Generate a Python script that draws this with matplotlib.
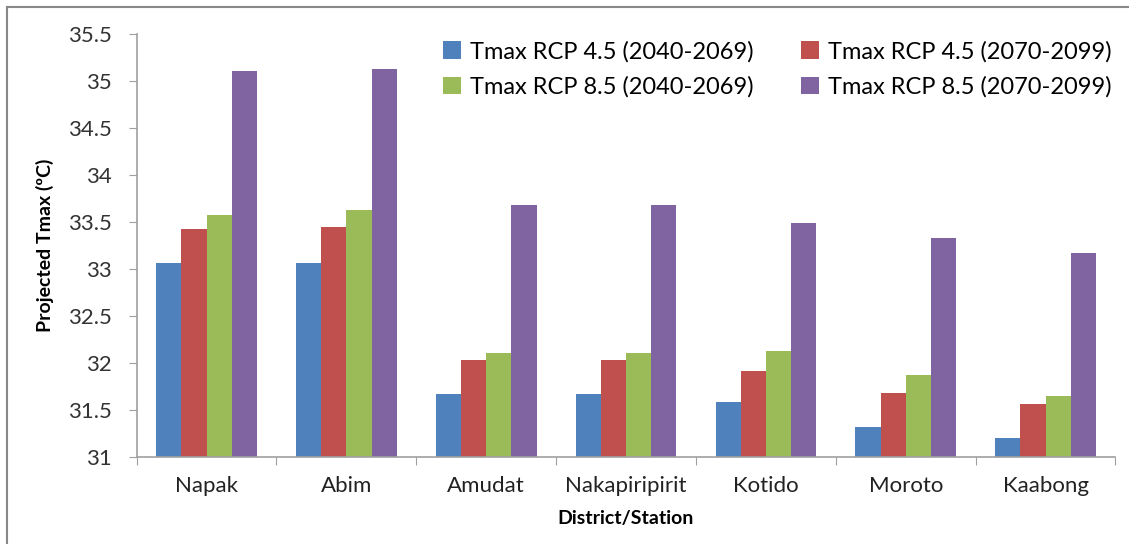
import matplotlib.pyplot as plt
import matplotlib.lines as mlines
import numpy as np

# === Data ===
stations = ['Napak', 'Abim', 'Amudat', 'Nakapiripirit', 'Kotido', 'Moroto', 'Kaabong']
rcp45_mid = [33.07, 33.06, 31.67, 31.67, 31.58, 31.32, 31.20]
rcp45_end = [33.43, 33.45, 32.03, 32.03, 31.91, 31.68, 31.56]
rcp85_mid = [33.58, 33.63, 32.11, 32.11, 32.13, 31.87, 31.65]
rcp85_end = [35.11, 35.13, 33.68, 33.68, 33.49, 33.33, 33.17]

series = [
    ('Tmax RCP 4.5 (2040-2069)', rcp45_mid, '#4F81BD'),
    ('Tmax RCP 4.5 (2070-2099)', rcp45_end, '#C0504D'),
    ('Tmax RCP 8.5 (2040-2069)', rcp85_mid, '#9BBB59'),
    ('Tmax RCP 8.5 (2070-2099)', rcp85_end, '#8064A2'),
]

plt.rcParams['font.family'] = ['Lato', 'DejaVu Sans']

fig = plt.figure(figsize=(11.29, 5.44), dpi=100)
ax = fig.add_axes([0.121, 0.160, 0.867, 0.777])

x = np.arange(len(stations))
bw = 0.18
base = 31
bars = []
for i, (label, vals, color) in enumerate(series):
    heights = [v - base for v in vals]
    b = ax.bar(x + (i - 1.5) * bw, heights, bw, bottom=base, color=color, label=label, zorder=2)
    bars.append(b)

ax.set_ylim(31, 35.5)
ax.set_xlim(-0.5, len(stations) - 0.5)
ax.set_yticks(np.arange(31, 35.51, 0.5))
ax.set_yticklabels(['31', '31.5', '32', '32.5', '33', '33.5', '34', '34.5', '35', '35.5'],
                   fontsize=16, color='#333333')

# category labels centred, ticks between categories
ax.set_xticks(np.arange(-0.5, len(stations), 1.0))
ax.set_xticklabels([])
ax.set_xticks(x, minor=True)
ax.set_xticklabels(stations, minor=True, fontsize=16, color='#222222')
ax.tick_params(axis='x', which='minor', length=0, pad=14)
ax.tick_params(axis='x', which='major', length=6, color='#A0A0A0', direction='out')
ax.tick_params(axis='y', length=6, color='#A0A0A0', direction='out', pad=12)

for side in ['top', 'right']:
    ax.spines[side].set_visible(False)
for side in ['left', 'bottom']:
    ax.spines[side].set_color('#A0A0A0')
    ax.spines[side].set_linewidth(1.2)

ax.set_ylabel('Projected Tmax (ºC)', fontsize=14, weight='bold', labelpad=10)
ax.set_xlabel('District/Station', fontsize=14, weight='bold', labelpad=10)

# legend: row 1 = RCP 4.5 pair, row 2 = RCP 8.5 pair (matplotlib fills by column)
order = [0, 2, 1, 3]
ax.legend([bars[k] for k in order], [series[k][0] for k in order],
          ncol=2, loc='upper right', bbox_to_anchor=(1.018, 1.035), frameon=False,
          fontsize=17, handlelength=0.75, handleheight=0.75, handletextpad=0.4,
          columnspacing=2.0, labelspacing=0.6)

# outer frame lines (left and top)
fig.add_artist(mlines.Line2D([7 / 1129, 7 / 1129], [0, 1 - 7 / 544], color='#888888', lw=1.5))
fig.add_artist(mlines.Line2D([7 / 1129, 1], [1 - 7 / 544, 1 - 7 / 544], color='#888888', lw=1.5))

plt.savefig('out.png', dpi=100)
